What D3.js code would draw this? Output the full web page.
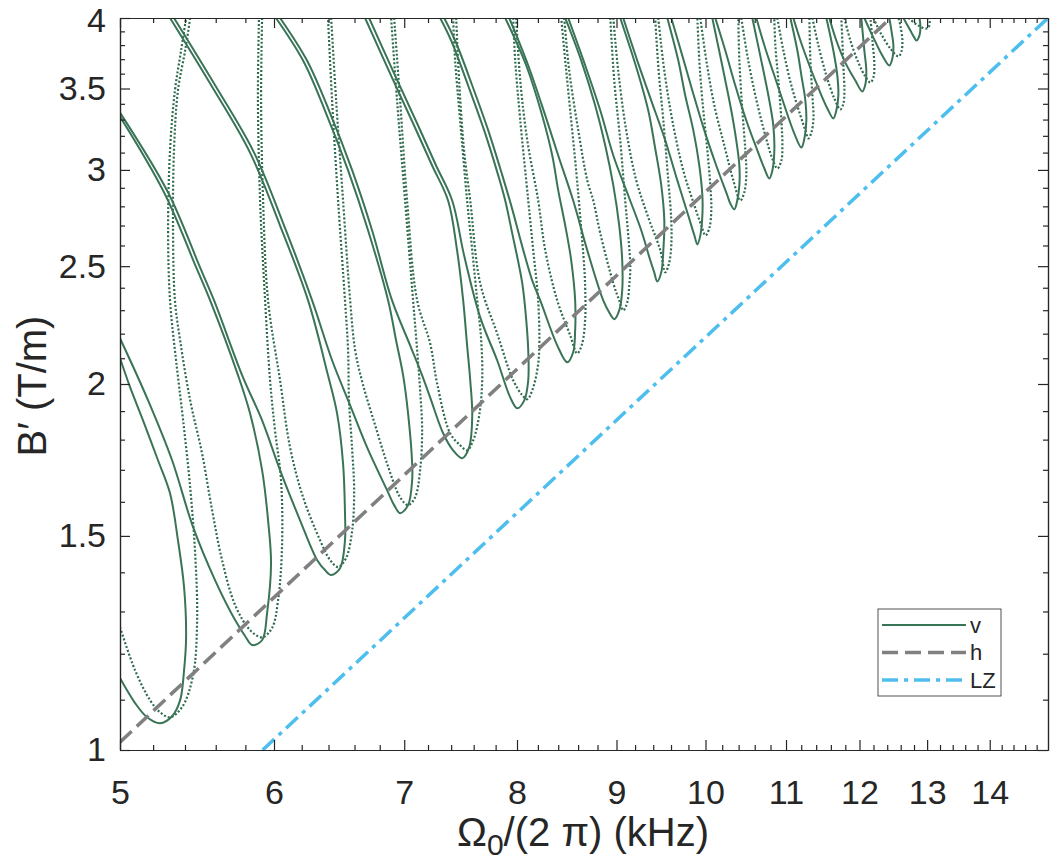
<!DOCTYPE html>
<html>
<head>
<meta charset="utf-8">
<script src="https://cdn.jsdelivr.net/npm/d3@7"></script>
<style>
  body { margin: 0; background: #fff; }
  svg { display: block; font-family: "Liberation Sans", Arial, Helvetica, sans-serif; }
  .axis path, .axis line { stroke: #262626; stroke-width: 1.2; }
  .axis text { fill: #262626; }
</style>
</head>
<body>
<div id="chart"></div>
<script>
// ticks
const xTicks = [5, 6, 7, 8, 9, 10, 11, 12, 13, 14];
const xMinorTicks = [5.2, 5.4, 5.6, 5.8, 6.2, 6.4, 6.6, 6.8, 7.2, 7.4, 7.6, 7.8, 8.2, 8.4, 8.6, 8.8,
  9.2, 9.4, 9.6, 9.8, 10.2, 10.4, 10.6, 10.8, 11.2, 11.4, 11.6, 11.8, 12.2, 12.4, 12.6, 12.8,
  13.2, 13.4, 13.6, 13.8, 14.2, 14.4, 14.6, 14.8];
const yTicks = [1, 1.5, 2, 2.5, 3, 3.5, 4];
const yMinorTicks = [1.1, 1.2, 1.3, 1.4, 1.6, 1.7, 1.8, 1.9, 2.1, 2.2, 2.3, 2.4,
  2.6, 2.7, 2.8, 2.9, 3.1, 3.2, 3.3, 3.4, 3.6, 3.7, 3.8, 3.9];

// v resonance tongues, solid family: [Omega0/2pi (kHz), B' (T/m)]
const vSolid = [
  [[5.0,1.146],[5.09,1.093],[5.163,1.064],[5.243,1.052],[5.318,1.066],[5.369,1.099],[5.394,1.163],[5.407,1.238],[5.394,1.361],[5.355,1.488],[5.305,1.626],[5.23,1.731],[5.138,1.867],[5.06,1.988],[5.0,2.1]],
  [[5.0,2.181],[5.169,1.939],[5.318,1.731],[5.452,1.525],[5.596,1.379],[5.73,1.279],[5.798,1.241],[5.846,1.22],[5.916,1.231],[5.951,1.296],[5.979,1.424],[5.958,1.545],[5.916,1.699],[5.832,1.892],[5.75,2.033],[5.563,2.343],[5.472,2.494],[5.268,2.874],[5.0,3.319]],
  [[5.0,3.344],[5.293,2.874],[5.497,2.494],[5.589,2.343],[5.778,2.033],[5.916,1.867],[6.043,1.699],[6.188,1.545],[6.314,1.433],[6.373,1.406],[6.42,1.393],[6.488,1.411],[6.526,1.488],[6.526,1.566],[6.511,1.721],[6.465,1.892],[6.396,2.033],[6.247,2.343],[6.043,2.7],[5.832,3.1],[5.563,3.533],[5.305,4.0]],
  [[5.33,4.0],[5.589,3.533],[5.86,3.1],[6.072,2.7],[6.277,2.343],[6.427,2.092],[6.566,1.921],[6.699,1.774],[6.859,1.636],[6.917,1.59],[6.966,1.566],[7.032,1.59],[7.066,1.667],[7.066,1.721],[7.032,1.892],[6.991,2.033],[6.933,2.172],[6.868,2.343],[6.707,2.675],[6.55,2.997],[6.373,3.357],[6.21,3.69],[6.014,4.0]],
  [[6.043,4.0],[6.239,3.69],[6.404,3.357],[6.582,2.997],[6.739,2.675],[6.9,2.343],[7.049,2.152],[7.15,2.033],[7.218,1.95],[7.33,1.822],[7.417,1.764],[7.497,1.738],[7.559,1.774],[7.587,1.885],[7.569,2.014],[7.541,2.152],[7.506,2.343],[7.452,2.576],[7.373,2.831],[7.235,3.025],[7.082,3.263],[6.892,3.587],[6.683,4.0]],
  [[6.715,4.0],[6.925,3.587],[7.116,3.263],[7.269,3.025],[7.409,2.831],[7.514,2.552],[7.659,2.269],[7.814,2.092],[7.936,1.95],[8.002,1.91],[8.069,1.939],[8.107,2.014],[8.107,2.132],[8.088,2.256],[8.05,2.42],[7.955,2.66],[7.889,2.831],[7.824,2.969],[7.695,3.233],[7.55,3.52],[7.4,3.833],[7.304,4.0]],
  [[7.339,4.0],[7.435,3.833],[7.587,3.52],[7.732,3.233],[7.862,2.969],[7.945,2.805],[8.06,2.576],[8.145,2.434],[8.223,2.343],[8.39,2.152],[8.49,2.084],[8.55,2.124],[8.57,2.214],[8.57,2.343],[8.53,2.528],[8.47,2.7],[8.4,2.886],[8.341,3.083],[8.242,3.326],[8.088,3.656],[7.889,4.0]],
  [[7.927,4.0],[8.107,3.656],[8.272,3.326],[8.4,3.083],[8.55,2.831],[8.694,2.576],[8.86,2.343],[8.923,2.29],[8.976,2.261],[9.029,2.299],[9.061,2.388],[9.061,2.528],[9.029,2.7],[8.966,2.913],[8.881,3.142],[8.776,3.389],[8.632,3.69],[8.47,4.0]],
  [[8.5,4.0],[8.673,3.656],[8.829,3.357],[8.966,3.083],[9.126,2.858],[9.268,2.675],[9.367,2.528],[9.411,2.471],[9.445,2.429],[9.49,2.471],[9.513,2.576],[9.524,2.726],[9.49,2.913],[9.422,3.124],[9.345,3.357],[9.224,3.621],[9.04,4.0]],
  [[9.072,4.0],[9.224,3.69],[9.378,3.421],[9.535,3.172],[9.672,2.941],[9.798,2.752],[9.869,2.65],[9.904,2.605],[9.939,2.65],[9.963,2.752],[9.963,2.858],[9.927,3.025],[9.857,3.233],[9.763,3.454],[9.683,3.69],[9.558,4.0]],
  [[9.603,4.0],[9.729,3.725],[9.845,3.487],[9.986,3.233],[10.128,3.025],[10.262,2.858],[10.298,2.815],[10.347,2.784],[10.383,2.831],[10.409,2.913],[10.409,3.025],[10.371,3.172],[10.31,3.357],[10.225,3.587],[10.081,4.0]],
  [[10.116,4.0],[10.237,3.761],[10.359,3.52],[10.495,3.294],[10.633,3.113],[10.722,3.008],[10.785,2.952],[10.824,2.997],[10.849,3.113],[10.836,3.263],[10.785,3.421],[10.709,3.621],[10.57,4.0]],
  [[10.62,4.0],[10.734,3.775],[10.849,3.587],[10.979,3.389],[11.109,3.214],[11.202,3.13],[11.242,3.184],[11.268,3.294],[11.255,3.421],[11.202,3.587],[11.149,3.761],[11.057,4.0]],
  [[11.096,4.0],[11.189,3.833],[11.309,3.656],[11.443,3.487],[11.552,3.37],[11.634,3.307],[11.675,3.357],[11.703,3.454],[11.689,3.587],[11.634,3.761],[11.538,4.0]],
  [[11.579,4.0],[11.675,3.833],[11.8,3.676],[11.941,3.553],[12.04,3.48],[12.083,3.527],[12.097,3.621],[12.069,3.761],[12.026,4.0]],
  [[12.069,4.0],[12.185,3.869],[12.329,3.725],[12.431,3.656],[12.476,3.704],[12.491,3.797],[12.462,3.906],[12.431,4.0]],
  [[12.64,4.0],[12.745,3.906],[12.805,3.854],[12.835,3.833],[12.882,3.869],[12.897,3.943],[12.882,4.0]]
];

// v resonance tongues, dotted family
const vDotted = [
  [[5.0,1.262],[5.09,1.163],[5.181,1.099],[5.243,1.074],[5.305,1.064],[5.382,1.085],[5.452,1.152],[5.478,1.279],[5.465,1.452],[5.433,1.645],[5.388,1.867],[5.343,2.092],[5.305,2.343],[5.293,2.675],[5.305,3.113],[5.336,3.487],[5.375,3.761],[5.407,4.0]],
  [[5.433,4.0],[5.401,3.761],[5.355,3.487],[5.33,3.113],[5.324,2.675],[5.336,2.343],[5.369,2.172],[5.433,1.939],[5.51,1.754],[5.576,1.575],[5.642,1.433],[5.73,1.316],[5.832,1.255],[5.916,1.238],[5.986,1.26],[6.029,1.328],[6.057,1.468],[6.05,1.667],[6.007,1.832],[5.972,2.014],[5.937,2.343],[5.902,2.831],[5.887,3.421],[5.894,4.0]],
  [[5.916,4.0],[5.909,3.421],[5.923,2.831],[5.958,2.343],[6.043,2.014],[6.115,1.774],[6.21,1.614],[6.336,1.488],[6.412,1.433],[6.473,1.414],[6.534,1.438],[6.582,1.516],[6.597,1.636],[6.582,1.764],[6.557,1.939],[6.55,2.132],[6.526,2.343],[6.473,2.831],[6.427,3.421],[6.396,4.0]],
  [[6.42,4.0],[6.458,3.421],[6.511,2.831],[6.566,2.343],[6.605,2.132],[6.668,1.995],[6.763,1.85],[6.859,1.721],[6.966,1.614],[7.032,1.59],[7.091,1.614],[7.133,1.699],[7.15,1.832],[7.133,1.976],[7.108,2.132],[7.074,2.343],[7.007,2.831],[6.941,3.421],[6.892,4.0]],
  [[6.917,4.0],[6.966,3.421],[7.024,2.831],[7.108,2.343],[7.218,2.16],[7.278,2.002],[7.391,1.822],[7.479,1.781],[7.541,1.764],[7.596,1.798],[7.65,1.885],[7.677,2.014],[7.668,2.172],[7.632,2.343],[7.587,2.576],[7.541,2.831],[7.479,3.294],[7.435,3.69],[7.417,4.0]],
  [[7.444,4.0],[7.47,3.553],[7.514,3.113],[7.569,2.831],[7.659,2.42],[7.814,2.201],[7.964,2.014],[8.05,1.958],[8.098,1.943],[8.145,1.976],[8.194,2.053],[8.213,2.132],[8.203,2.343],[8.155,2.576],[8.107,2.831],[8.031,3.294],[7.983,3.69],[7.964,4.0]],
  [[7.992,4.0],[8.031,3.553],[8.098,3.172],[8.203,2.831],[8.272,2.576],[8.39,2.343],[8.52,2.193],[8.591,2.119],[8.642,2.16],[8.673,2.269],[8.673,2.388],[8.663,2.494],[8.622,2.742],[8.58,2.997],[8.52,3.357],[8.47,3.69],[8.43,4.0]],
  [[8.46,4.0],[8.51,3.621],[8.602,3.233],[8.694,2.941],[8.756,2.831],[8.829,2.66],[8.966,2.42],[9.029,2.343],[9.072,2.299],[9.115,2.334],[9.137,2.411],[9.148,2.494],[9.126,2.65],[9.093,2.831],[9.04,3.172],[8.976,3.553],[8.934,4.0]],
  [[8.966,4.0],[9.018,3.621],[9.104,3.233],[9.213,2.941],[9.345,2.742],[9.479,2.576],[9.535,2.471],[9.58,2.518],[9.603,2.601],[9.603,2.726],[9.569,2.941],[9.513,3.294],[9.46,3.621],[9.422,4.0]],
  [[9.456,4.0],[9.524,3.621],[9.615,3.294],[9.74,2.997],[9.869,2.805],[9.951,2.7],[10.0,2.65],[10.045,2.686],[10.069,2.778],[10.057,2.913],[10.022,3.113],[9.963,3.421],[9.927,3.69],[9.904,4.0]],
  [[9.939,4.0],[10.01,3.69],[10.105,3.389],[10.225,3.142],[10.335,2.941],[10.421,2.831],[10.47,2.875],[10.495,2.969],[10.483,3.113],[10.446,3.357],[10.409,3.69],[10.396,4.0]],
  [[10.433,4.0],[10.508,3.725],[10.608,3.454],[10.734,3.202],[10.824,3.064],[10.888,3.008],[10.94,3.054],[10.953,3.142],[10.94,3.294],[10.901,3.553],[10.862,3.797],[10.849,4.0]],
  [[10.888,4.0],[10.966,3.761],[11.07,3.52],[11.189,3.326],[11.255,3.233],[11.295,3.184],[11.336,3.221],[11.363,3.307],[11.349,3.454],[11.322,3.69],[11.309,4.0]],
  [[11.349,4.0],[11.43,3.797],[11.538,3.587],[11.648,3.434],[11.731,3.364],[11.773,3.401],[11.787,3.487],[11.773,3.656],[11.745,4.0]],
  [[11.787,4.0],[11.871,3.833],[11.984,3.676],[12.083,3.58],[12.156,3.54],[12.199,3.574],[12.213,3.656],[12.185,3.833],[12.156,4.0]],
  [[12.199,4.0],[12.3,3.891],[12.447,3.775],[12.565,3.719],[12.61,3.754],[12.625,3.833],[12.595,3.943],[12.565,4.0]],
  [[12.715,4.0],[12.867,3.943],[12.989,3.921],[13.035,3.943],[13.035,4.0]]
];

// h and LZ boundaries
const hLine = [[5.0, 1.015], [12.45, 4.0]];
const lzLine = [[5.92, 1.0], [15.0, 4.0]];

const legendItems = [
  { label: 'v', color: '#3a7456', dash: null, width: 2 },
  { label: 'h', color: '#808080', dash: '16,7', width: 3.5 },
  { label: 'LZ', color: '#4dbeee', dash: '16,6,4,6', width: 3.5 }
];

const W = 1053, H = 867;
const plot = { left: 120, right: 1048, top: 18, bottom: 750 };

const svg = d3.select('#chart').append('svg')
  .attr('width', W).attr('height', H)
  .attr('viewBox', `0 0 ${W} ${H}`);

const x = d3.scaleLog().domain([5, 15]).range([plot.left, plot.right]);
const y = d3.scaleLog().domain([1, 4]).range([plot.bottom, plot.top]);

svg.append('clipPath').attr('id', 'plot-clip')
  .append('rect')
  .attr('x', plot.left).attr('y', plot.top)
  .attr('width', plot.right - plot.left).attr('height', plot.bottom - plot.top);

const line = d3.line()
  .x(d => x(d[0]))
  .y(d => y(d[1]))
  .curve(d3.curveCatmullRom.alpha(0.5));

const straight = d3.line().x(d => x(d[0])).y(d => y(d[1]));

const g = svg.append('g').attr('clip-path', 'url(#plot-clip)');

g.selectAll('.v-dot')
  .data(vDotted)
  .enter().append('path')
  .attr('class', 'v-dot')
  .attr('d', line)
  .attr('fill', 'none')
  .attr('stroke', '#2f6b4d')
  .attr('stroke-width', 2.2)
  .attr('stroke-dasharray', '2,2');

g.selectAll('.v-solid')
  .data(vSolid)
  .enter().append('path')
  .attr('class', 'v-solid')
  .attr('d', line)
  .attr('fill', 'none')
  .attr('stroke', '#3a7456')
  .attr('stroke-width', 2);

g.append('path')
  .attr('d', straight(hLine))
  .attr('fill', 'none')
  .attr('stroke', '#808080')
  .attr('stroke-width', 3.5)
  .attr('stroke-dasharray', '16,7');

g.append('path')
  .attr('d', straight(lzLine))
  .attr('fill', 'none')
  .attr('stroke', '#4dbeee')
  .attr('stroke-width', 3.5)
  .attr('stroke-dasharray', '16,6,4,6');

// axes: inward ticks on all four sides
const tickFont = 34;

function addAxis(axisFn, scale, transform, major, minor, labels) {
  const minorAx = axisFn(scale).tickValues(minor).tickFormat('')
    .tickSizeInner(-5).tickSizeOuter(0);
  svg.append('g').attr('class', 'axis').attr('transform', transform).call(minorAx);
  const majorAx = axisFn(scale).tickValues(major)
    .tickFormat(labels ? (d => d) : '')
    .tickSizeInner(-10).tickSizeOuter(0)
    .tickPadding(labels === 'x' ? 30 : 14);
  const ga = svg.append('g').attr('class', 'axis').attr('transform', transform).call(majorAx);
  ga.selectAll('text').style('font-size', tickFont + 'px');
  return ga;
}

addAxis(d3.axisBottom, x, `translate(0,${plot.bottom})`, xTicks, xMinorTicks, 'x');
addAxis(d3.axisTop, x, `translate(0,${plot.top})`, xTicks, xMinorTicks, null);
const yAx = addAxis(d3.axisLeft, y, `translate(${plot.left},0)`, yTicks, yMinorTicks, 'y');
addAxis(d3.axisRight, y, `translate(${plot.right},0)`, yTicks, yMinorTicks, null);
// keep the top label inside the picture
yAx.selectAll('text').filter(d => d === 4).attr('dy', '0.4em');

// axis titles
const xt = svg.append('text')
  .attr('x', 583).attr('y', 846)
  .attr('text-anchor', 'middle')
  .style('font-size', '40px').style('fill', '#262626');
xt.append('tspan').text('Ω');
xt.append('tspan').attr('dy', 9).style('font-size', '30px').text('0');
xt.append('tspan').attr('dy', -9).text('/(2 π) (kHz)');

svg.append('text')
  .attr('transform', 'translate(46,386) rotate(-90)')
  .attr('text-anchor', 'middle')
  .style('font-size', '40px').style('fill', '#262626')
  .text('B′ (T/m)');

// legend
const lg = svg.append('g').attr('transform', 'translate(878,609)');
lg.append('rect')
  .attr('width', 123).attr('height', 87)
  .attr('fill', '#fff').attr('stroke', '#262626').attr('stroke-width', 0.8);

legendItems.forEach((it, i) => {
  const yy = 16 + i * 27.5;
  lg.append('line')
    .attr('x1', 4).attr('x2', 88).attr('y1', yy).attr('y2', yy)
    .attr('stroke', it.color).attr('stroke-width', it.width)
    .attr('stroke-dasharray', it.dash);
  lg.append('text')
    .attr('x', 92).attr('y', yy).attr('dy', '0.35em')
    .style('font-size', '22px').style('fill', '#262626')
    .text(it.label);
});
</script>
</body>
</html>
